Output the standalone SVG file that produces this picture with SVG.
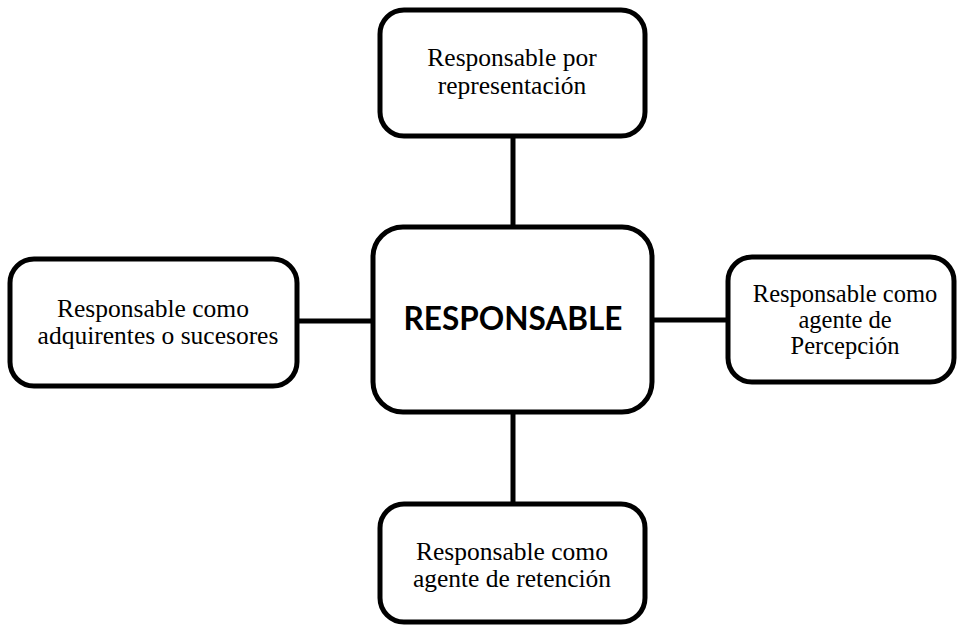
<svg xmlns="http://www.w3.org/2000/svg" width="957" height="625" viewBox="0 0 957 625">
  <style>
    .box { fill: #ffffff; stroke: #000000; stroke-width: 5; }
    .link { stroke: #000000; stroke-width: 5; fill: none; }
    .lbl { font-family: "Liberation Serif", "Times New Roman", serif; font-size: 25.5px; fill: #000000; text-anchor: middle; }
    .lbl-tight { font-size: 24.5px; }
    .main { font-family: Lato, "Open Sans", sans-serif; font-weight: bold; font-size: 33px; fill: #000000; text-anchor: middle; }
  </style>
  <rect width="957" height="625" fill="#ffffff"/>

  <g id="connectors">
    <line class="link" x1="513" y1="136" x2="513" y2="227"/>
    <line class="link" x1="513" y1="412" x2="513" y2="504"/>
    <line class="link" x1="297" y1="321" x2="373" y2="321"/>
    <line class="link" x1="652" y1="320" x2="728" y2="320"/>
  </g>

  <g id="node-top">
    <rect class="box" x="380" y="10" width="265" height="126" rx="24"/>
    <text class="lbl" x="512" y="66">Responsable por</text>
    <text class="lbl" x="512" y="94">representación</text>
  </g>

  <g id="node-center">
    <rect class="box" x="373" y="227" width="279" height="185" rx="30"/>
    <text class="main" x="513" y="330" textLength="219" lengthAdjust="spacingAndGlyphs">RESPONSABLE</text>
  </g>

  <g id="node-left">
    <rect class="box" x="10" y="259" width="287" height="127" rx="24"/>
    <text class="lbl" x="153" y="317">Responsable como</text>
    <text class="lbl" x="158" y="344">adquirentes o sucesores</text>
  </g>

  <g id="node-right">
    <rect class="box" x="728" y="257" width="226" height="125" rx="24"/>
    <text class="lbl lbl-tight" x="845" y="302">Responsable como</text>
    <text class="lbl lbl-tight" x="845" y="328">agente de</text>
    <text class="lbl lbl-tight" x="845" y="354">Percepción</text>
  </g>

  <g id="node-bottom">
    <rect class="box" x="380" y="504" width="265" height="118" rx="24"/>
    <text class="lbl" x="512" y="560">Responsable como</text>
    <text class="lbl" x="512" y="587">agente de retención</text>
  </g>
</svg>
